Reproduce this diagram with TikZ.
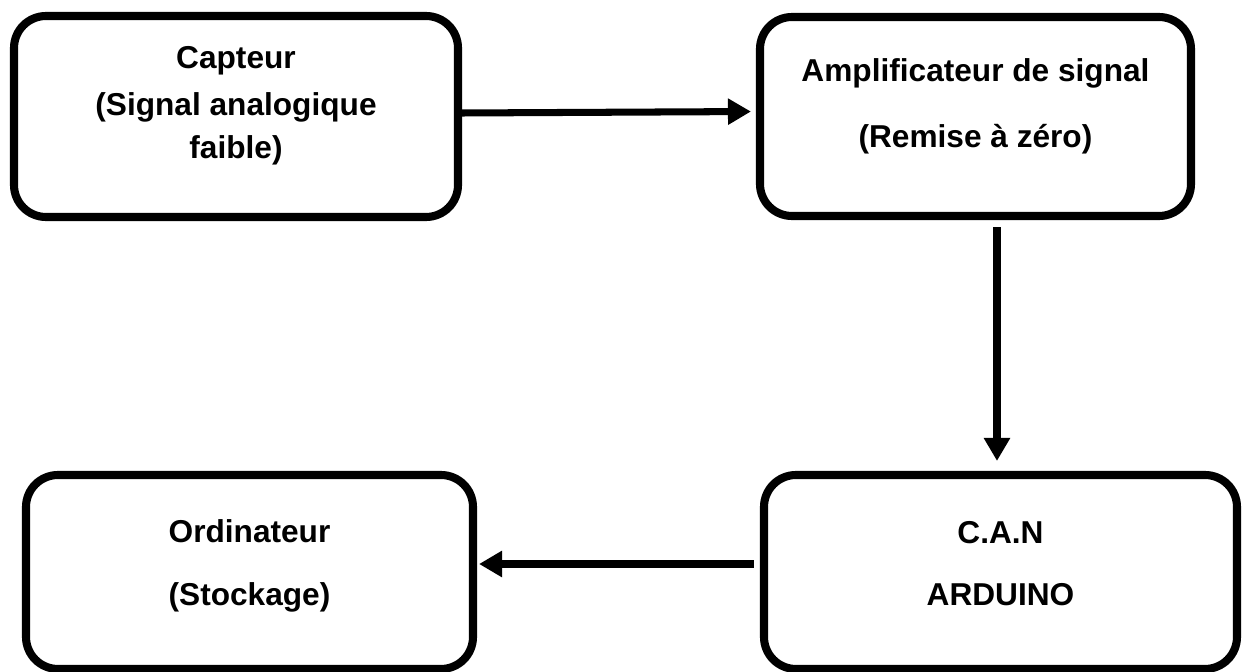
\documentclass[tikz,border=0pt]{standalone}
\usepackage{fontspec}
\setmainfont{Liberation Sans}
\usetikzlibrary{arrows.meta}

\begin{document}
\begin{tikzpicture}[
        bloc/.style={draw, line width=2.3pt, rounded corners=0.32cm, inner sep=0pt},
        txt/.style={anchor=north, inner sep=0pt, align=center, font=\fontsize{9}{12.2}\selectfont\bfseries},
        fleche/.style={line width=2pt, -{Triangle[length=0.23cm,width=0.25cm]}}]
        \useasboundingbox (0,0) rectangle (12.43,6.72);
        \node[bloc, minimum width=4.44cm, minimum height=2.01cm] (capteur) at (2.36,5.555) {};
        \node[bloc, minimum width=4.31cm, minimum height=1.99cm] (ampli) at (9.755,5.555) {};
        \node[bloc, minimum width=4.47cm, minimum height=1.94cm] (ordi) at (2.495,1.00) {};
        \node[bloc, minimum width=4.73cm, minimum height=1.94cm] (can) at (10.005,1.00) {};
        \node[txt] (capteurtxt) at ([yshift=-0.34cm]capteur.north) {Capteur\\[1pt](Signal analogique\\faible)};
        \node[txt] (amplitxt) at ([yshift=-0.45cm]ampli.north) {Amplificateur de signal\\[6.6pt](Remise à zéro)};
        \node[txt] (orditxt) at ([yshift=-0.48cm]ordi.north) {Ordinateur\\[5.7pt](Stockage)};
        \node[txt] (cantxt) at ([yshift=-0.50cm]can.north) {C.A.N\\[5.5pt]ARDUINO};
        \draw[fleche, shorten >=0.05cm] ([yshift=0.035cm]capteur.east) -- ([yshift=0.05cm]ampli.west);
        \draw[fleche, shorten <=0.07cm, shorten >=0.1cm] ([xshift=-0.035cm]can.north |- ampli.south) -- ([xshift=-0.035cm]can.north);
        \draw[fleche, shorten <=0.06cm, shorten >=0.02cm] ([yshift=0.08cm]can.west) -- ([yshift=0.08cm]ordi.east);
    \end{tikzpicture}
\end{document}
